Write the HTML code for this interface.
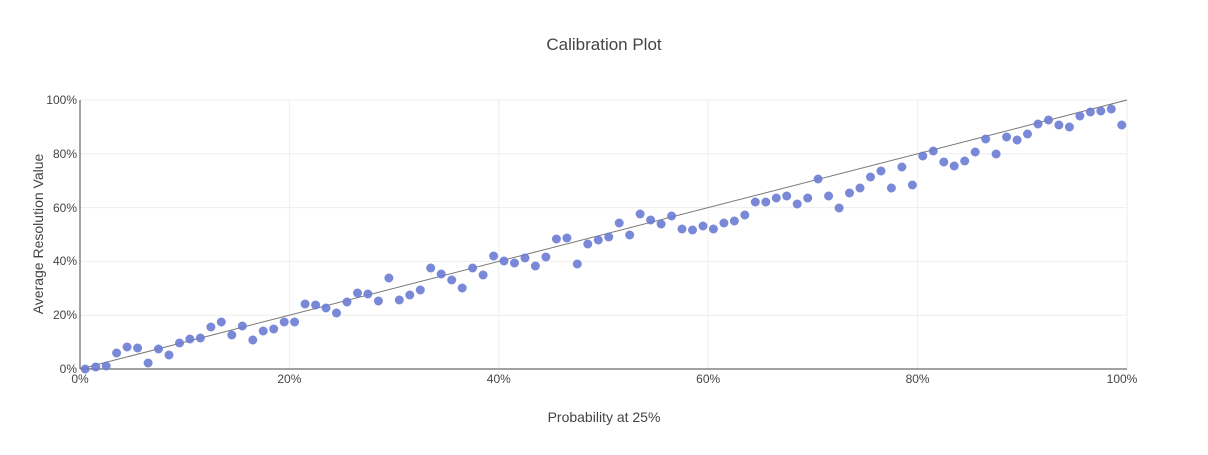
<!DOCTYPE html>
<html><head><style>
body{margin:0;background:#fff;font-family:"Liberation Sans",sans-serif;}
svg text{font-family:"Liberation Sans",sans-serif;fill:#444;}
</style></head><body>
<svg id="s" width="1208" height="450" xmlns="http://www.w3.org/2000/svg">
<rect width="1208" height="450" fill="#fff"/>
<text x="604" y="50" font-size="17" text-anchor="middle">Calibration Plot</text>
<g stroke="#eee" stroke-width="1">
<line x1="289.4" y1="100" x2="289.4" y2="369"/><line x1="498.8" y1="100" x2="498.8" y2="369"/>
<line x1="708.2" y1="100" x2="708.2" y2="369"/><line x1="917.6" y1="100" x2="917.6" y2="369"/>
<line x1="80" y1="315.2" x2="1127" y2="315.2"/><line x1="80" y1="261.4" x2="1127" y2="261.4"/>
<line x1="80" y1="207.6" x2="1127" y2="207.6"/><line x1="80" y1="153.8" x2="1127" y2="153.8"/>
<line x1="80" y1="100" x2="1127" y2="100"/><line x1="1127" y1="100" x2="1127" y2="369"/>
</g>
<line x1="80" y1="369" x2="1127" y2="369" stroke="#444"/>
<line x1="80" y1="100" x2="80" y2="369" stroke="#444"/>
<line x1="80" y1="369" x2="1127" y2="100" stroke="#777" stroke-width="1"/>
<g id="pts" fill="#6b7bd4" fill-opacity="0.9"></g>
<g font-size="12" text-anchor="end">
<text x="77" y="373">0%</text><text x="77" y="319">20%</text><text x="77" y="265">40%</text>
<text x="77" y="212">60%</text><text x="77" y="158">80%</text><text x="77" y="104">100%</text>
</g>
<g font-size="12" text-anchor="middle">
<text x="80" y="383">0%</text><text x="289.4" y="383">20%</text><text x="498.8" y="383">40%</text>
<text x="708.2" y="383">60%</text><text x="917.6" y="383">80%</text><text x="1122" y="383">100%</text>
</g>
<text x="604" y="422" font-size="14" text-anchor="middle">Probability at 25%</text>
<text transform="translate(43,234) rotate(-90)" font-size="14" text-anchor="middle">Average Resolution Value</text>
</svg>
<script>
var ys=[369,367,366,353,347,348,363,349,355,343,339,338,327,322,335,326,340,331,329,322,322,304,305,308,313,302,293,294,301,278,300,295,290,268,274,280,288,268,275,256,261,263,258,266,257,239,238,264,244,240,237,223,235,214,220,224,216,229,230,226,229,223,221,215,202,202,198,196,204,198,179,196,208,193,188,177,171,188,167,185,156,151,162,166,161,152,139,154,137,140,134,124,120,125,127,116,112,111,109,125];
var g=document.getElementById('pts'),h='';
for(var i=0;i<ys.length;i++){var x=80+10.47*(i+0.5);h+='<circle cx="'+x.toFixed(1)+'" cy="'+ys[i]+'" r="4.5"/>';}
g.innerHTML=h;
</script>
</body></html>
